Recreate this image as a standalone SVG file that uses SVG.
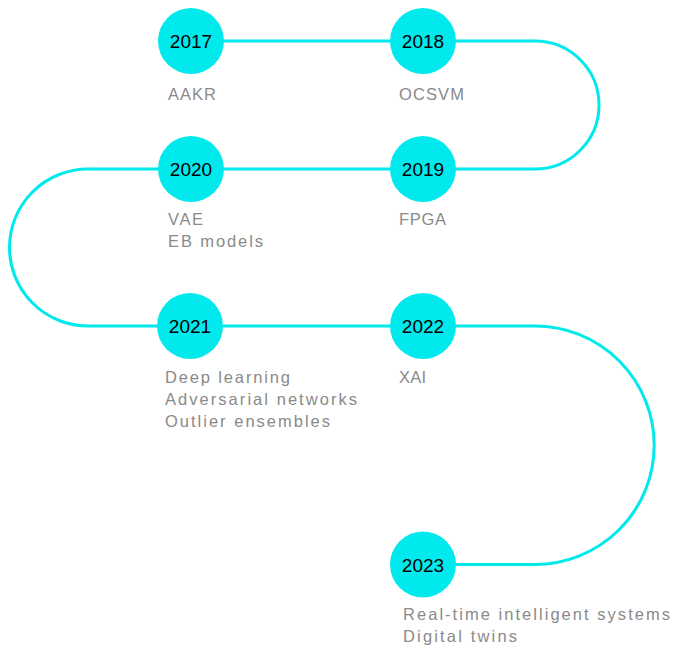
<svg xmlns="http://www.w3.org/2000/svg" width="674" height="650" viewBox="0 0 674 650">
  <style>
    .track { fill: none; stroke: #00e9ec; stroke-width: 3; }
    .dot { fill: #00e9ec; }
    .year { font-family: "Liberation Sans", Arial, sans-serif; font-size: 19px; fill: #000; text-anchor: middle; }
    .label { font-family: "Liberation Sans", Arial, sans-serif; font-size: 16.5px; fill: #8a8a8a; }
  </style>
  <rect width="674" height="650" fill="#fff"/>

  <!-- serpentine timeline track -->
  <g id="connectors">
    <path class="track" d="M191,41 H535 A64,64 0 0 1 535,169 H88 A78.5,78.5 0 0 0 88,326 H535 A119.25,119.25 0 0 1 535,564.5 H423"/>
  </g>

  <g id="y2017">
    <circle class="dot" cx="191" cy="41" r="33"/>
    <text class="year" x="191" y="48">2017</text>
    <text class="label" x="168" y="100" textLength="48" lengthAdjust="spacing">AAKR</text>
  </g>

  <g id="y2018">
    <circle class="dot" cx="423" cy="41" r="33"/>
    <text class="year" x="423" y="48">2018</text>
    <text class="label" x="399" y="100" textLength="65" lengthAdjust="spacing">OCSVM</text>
  </g>

  <g id="y2019">
    <circle class="dot" cx="423" cy="169" r="33"/>
    <text class="year" x="423" y="176">2019</text>
    <text class="label" x="399" y="225" textLength="47" lengthAdjust="spacing">FPGA</text>
  </g>

  <g id="y2020">
    <circle class="dot" cx="191" cy="169" r="33"/>
    <text class="year" x="191" y="176">2020</text>
    <text class="label" x="168" y="225" textLength="35" lengthAdjust="spacing">VAE</text>
    <text class="label" x="168" y="247" textLength="95" lengthAdjust="spacing">EB models</text>
  </g>

  <g id="y2021">
    <circle class="dot" cx="190" cy="326" r="33"/>
    <text class="year" x="190" y="333">2021</text>
    <text class="label" x="165" y="383" textLength="125" lengthAdjust="spacing">Deep learning</text>
    <text class="label" x="165" y="405" textLength="192" lengthAdjust="spacing">Adversarial networks</text>
    <text class="label" x="165" y="427" textLength="165" lengthAdjust="spacing">Outlier ensembles</text>
  </g>

  <g id="y2022">
    <circle class="dot" cx="423" cy="326" r="33"/>
    <text class="year" x="423" y="333">2022</text>
    <text class="label" x="399" y="383" textLength="27" lengthAdjust="spacing">XAI</text>
  </g>

  <g id="y2023">
    <circle class="dot" cx="423" cy="564.5" r="33"/>
    <text class="year" x="423" y="571.5">2023</text>
    <text class="label" x="403" y="620" textLength="267" lengthAdjust="spacing">Real-time intelligent systems</text>
    <text class="label" x="403" y="642" textLength="114" lengthAdjust="spacing">Digital twins</text>
  </g>
</svg>
